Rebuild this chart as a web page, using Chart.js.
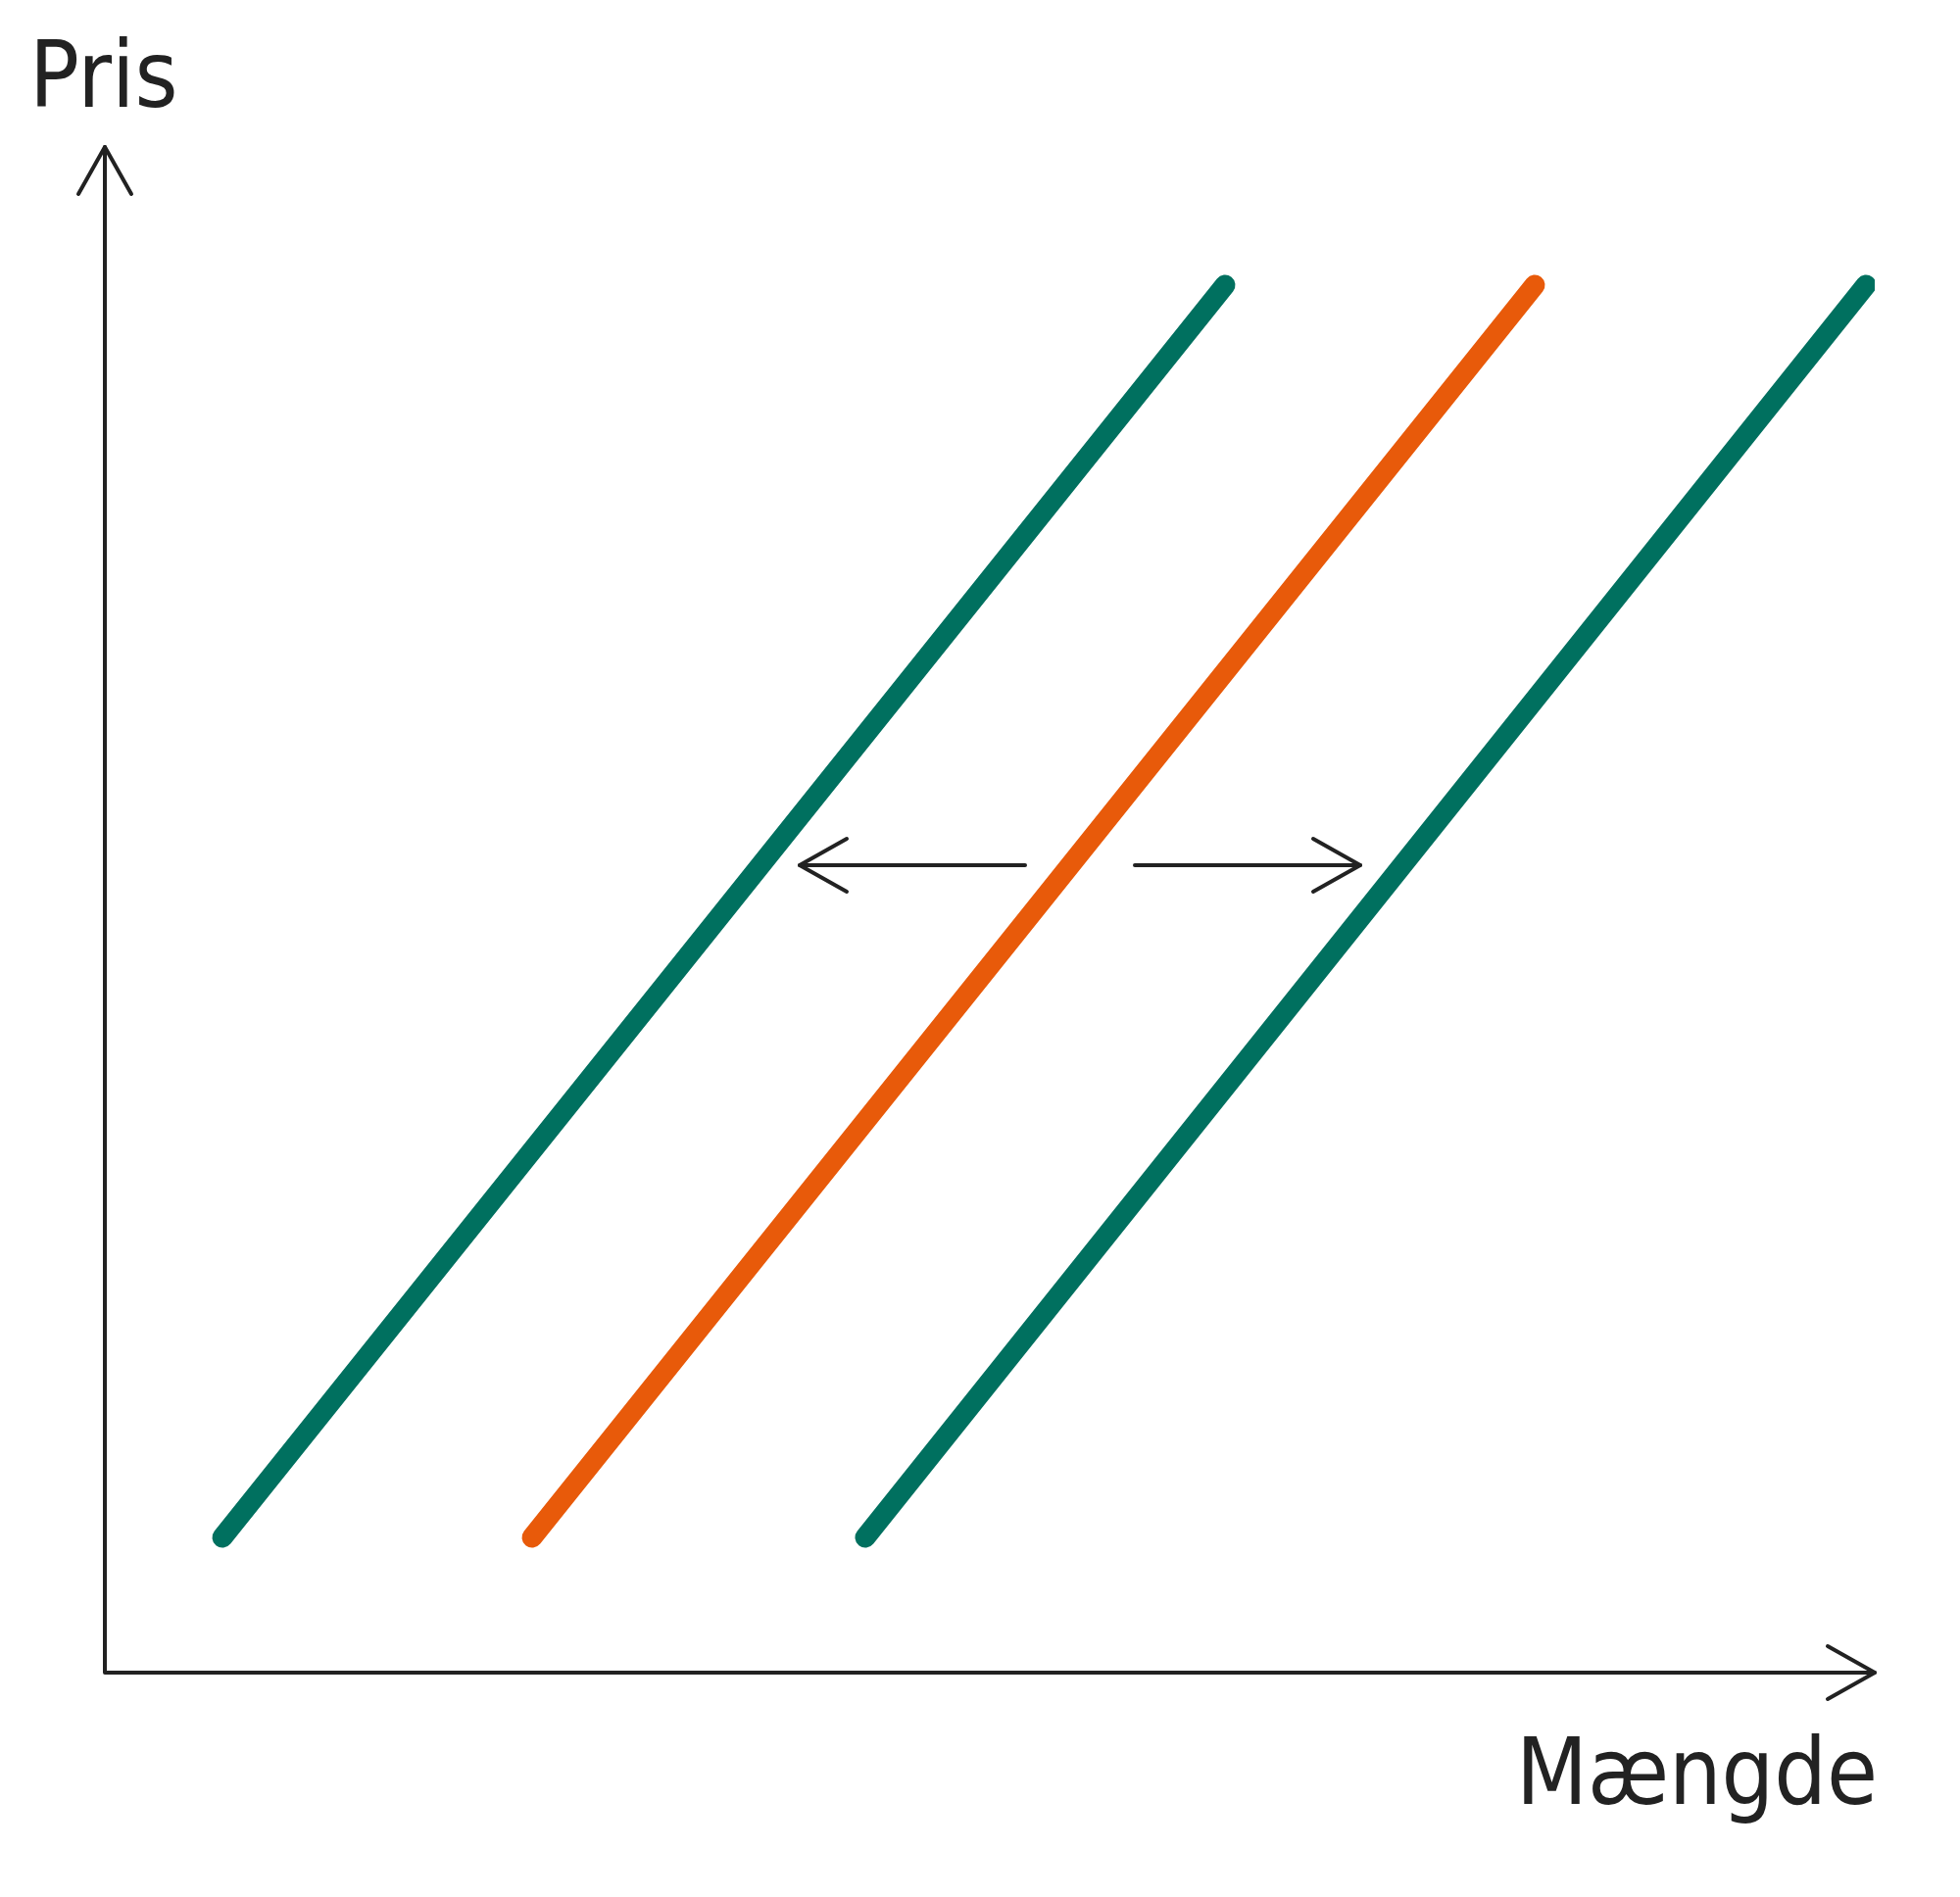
<!DOCTYPE html>
<html><head><meta charset="utf-8">
<script src="https://cdn.jsdelivr.net/npm/chart.js@4"></script>
<style>
html,body{margin:0;padding:0;background:#fff;}
#wrap{position:relative;width:2000px;height:1936px;}
.lbl{position:absolute;font-family:'DejaVu Sans Condensed','Liberation Sans Narrow','Noto Sans',sans-serif;font-size:94px;color:#222;line-height:1;white-space:nowrap;}
</style></head><body>
<div id="wrap">
<canvas id="c" width="2000" height="1936"></canvas>
<div class="lbl" id="ylab" style="left:30px;top:30px;">Pris</div>
<div class="lbl" id="xlab" style="right:84px;top:1762px;">Mængde</div>
</div>
<script>
// Quantity/price data (chart units)
const supplyLeftX = [120, 1143];
const supplyMidX = [436, 1459];
const supplyRightX = [776, 1797];
const supplyY = [138, 1416];
const shiftY = 824;
const shiftLeft = [939, 709];
const shiftRight = [1051, 1281];
const axisMaxX = 1806, axisMaxY = 1557;

const pts = (xs) => xs.map((x,i)=>({x:x,y:supplyY[i]}));

const decor = {
  id:'decor',
  afterDatasetsDraw(chart){
    const ctx=chart.ctx, xs=chart.scales.x, ys=chart.scales.y;
    const X=v=>xs.getPixelForValue(v), Y=v=>ys.getPixelForValue(v);
    ctx.save();
    ctx.strokeStyle='#222'; ctx.lineWidth=4; ctx.lineCap='round'; ctx.lineJoin='round';
    ctx.beginPath(); ctx.moveTo(X(0),Y(axisMaxY)); ctx.lineTo(X(0),Y(0)); ctx.lineTo(X(axisMaxX),Y(0)); ctx.stroke();
    const chev=(tx,ty,dx,dy)=>{
      const L=48,W=27; const px=-dy,py=dx;
      ctx.beginPath();
      ctx.moveTo(tx-dx*L+px*W,ty-dy*L+py*W); ctx.lineTo(tx,ty); ctx.lineTo(tx-dx*L-px*W,ty-dy*L-py*W); ctx.stroke();
    };
    chev(X(0),Y(axisMaxY),0,-1);
    chev(X(axisMaxX),Y(0),1,0);
    ctx.beginPath(); ctx.moveTo(X(shiftLeft[0]),Y(shiftY)); ctx.lineTo(X(shiftLeft[1]),Y(shiftY)); ctx.stroke();
    chev(X(shiftLeft[1]),Y(shiftY),-1,0);
    ctx.beginPath(); ctx.moveTo(X(shiftRight[0]),Y(shiftY)); ctx.lineTo(X(shiftRight[1]),Y(shiftY)); ctx.stroke();
    chev(X(shiftRight[1]),Y(shiftY),1,0);
    ctx.restore();
  }
};

const ds=(xs,col)=>({data:pts(xs),borderColor:col,borderWidth:21,borderCapStyle:'round',pointRadius:0,showLine:true,fill:false});
new Chart(document.getElementById('c'),{
  type:'scatter',
  data:{datasets:[ds(supplyLeftX,'#00705f'),ds(supplyMidX,'#e85a0a'),ds(supplyRightX,'#00705f')]},
  options:{
    responsive:false,animation:false,devicePixelRatio:1,
    layout:{padding:{left:107,right:87,top:150,bottom:229}},
    plugins:{legend:{display:false},tooltip:{enabled:false}},
    scales:{
      x:{type:'linear',display:false,min:0,max:axisMaxX},
      y:{type:'linear',display:false,min:0,max:axisMaxY}
    }
  },
  plugins:[decor]
});
</script>
</body></html>
